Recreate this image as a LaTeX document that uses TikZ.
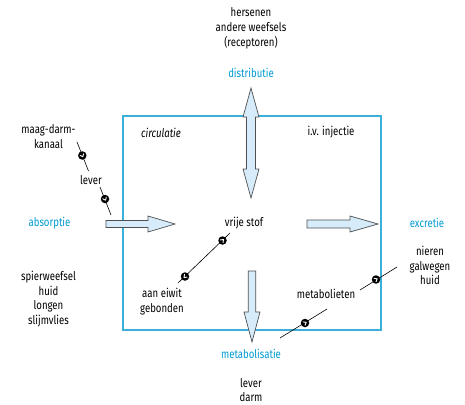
\documentclass[tikz,border=0pt]{standalone}
\usepackage{fontspec}
\setmainfont{Fira Sans}[FakeStretch=0.8]
\definecolor{cy}{RGB}{0,155,210}
\definecolor{boxc}{RGB}{60,175,215}
\definecolor{afill}{RGB}{214,236,250}
\definecolor{aline}{RGB}{80,80,80}
\tikzset{chev/.pic={\draw[white,line width=0.9pt,line cap=round,line join=round] (-1.1,-1.9) -- (1.4,0) -- (-1.1,1.9);}}
\begin{document}
\begin{tikzpicture}[x=1pt,y=-1pt,
  lbl/.style={font=\fontsize{12}{14.8}\selectfont, inner sep=0pt, align=center},
  proc/.style={lbl, text=cy},
  blk/.style={draw=aline, fill=afill, line width=0.7pt, line join=miter},
  link/.style={line width=0.6pt, black},
  dotc/.style={circle, fill=black, inner sep=0pt, minimum size=8.5pt}]
\useasboundingbox (0,0) rectangle (465,404);
% circulation box
\draw[boxc, line width=1.2pt] (123,116) rectangle (381,330);
% block arrows
\draw[blk] (251,88) -- (259,117) -- (255.5,117) -- (255.5,169) -- (259,169) -- (251,198)
  -- (243,169) -- (246.5,169) -- (246.5,117) -- (243,117) -- cycle;
\draw[blk] (248.3,271) -- (255.7,271) -- (255.7,312) -- (260,312) -- (252,342) -- (244,312) -- (248.3,312) -- cycle;
\draw[blk] (106,220.5) -- (148,220.5) -- (148,216) -- (175,224) -- (148,232) -- (148,227.5) -- (106,227.5) -- cycle;
\draw[blk] (307,220) -- (350,220) -- (350,216) -- (378,224) -- (350,232) -- (350,228) -- (307,228) -- cycle;
% labels
\node[lbl] (hers) at (251,28.5) {hersenen\\andere weefsels\\(receptoren)};
\node[proc] (distr) at (251,73) {distributie};
\node[lbl, font=\fontsize{12}{14.8}\selectfont\itshape] (circ) at (161,133) {circulatie};
\node[lbl] (iv) at (331,132) {i.v. injectie};
\node[lbl] (maag) at (48.5,136.5) {maag-darm-\\kanaal};
\node[lbl] (lev1) at (91,180) {lever};
\node[proc] (abs) at (49.5,223) {absorptie};
\node[lbl] (spier) at (48.5,299) {spierweefsel\\huid\\longen\\slijmvlies};
\node[lbl] (vrij) at (244,223) {vrije stof};
\node[lbl] (eiwit) at (162,301.5) {aan eiwit\\gebonden};
\node[lbl] (metab) at (326,294) {metabolieten};
\node[lbl] (nier) at (430,265.5) {nieren\\galwegen\\huid};
\node[proc] (excr) at (427,223) {excretie};
\node[proc] (mbs) at (251,354) {metabolisatie};
\node[lbl] (lev2) at (251,390) {lever\\darm};
% connector coordinates
\coordinate (la) at (77,142);
\coordinate (lb) at (88.5,171);
\coordinate (lc) at (100,187);
\coordinate (ld) at (111,215);
\coordinate (ma) at (230,233);
\coordinate (mb) at (178,283);
\coordinate (ra) at (280,338);
\coordinate (rb) at (327,309);
\coordinate (rc) at (360,290);
\coordinate (rd) at (397,267);
\draw[link] (la) -- (lb);
\draw[link] (lc) -- (ld);
\draw[link] (ma) -- (mb);
\draw[link] (ra) -- (rb);
\draw[link] (rc) -- (rd);
% direction dots
\node[dotc] (d1) at (82.3,155.5) {};
\node[dotc] (d2) at (105,199) {};
\node[dotc] (d3) at (222.5,240.5) {};
\node[dotc] (d4) at (185,276.5) {};
\node[dotc] (d5) at (305,323) {};
\node[dotc] (d6) at (376,279.5) {};
\pic[rotate=-65] at (d1) {chev};
\pic[rotate=-65] at (d2) {chev};
\pic[rotate=44] at (d3) {chev};
\pic[rotate=224] at (d4) {chev};
\pic[rotate=31] at (d5) {chev};
\pic[rotate=31] at (d6) {chev};
\end{tikzpicture}
\end{document}
